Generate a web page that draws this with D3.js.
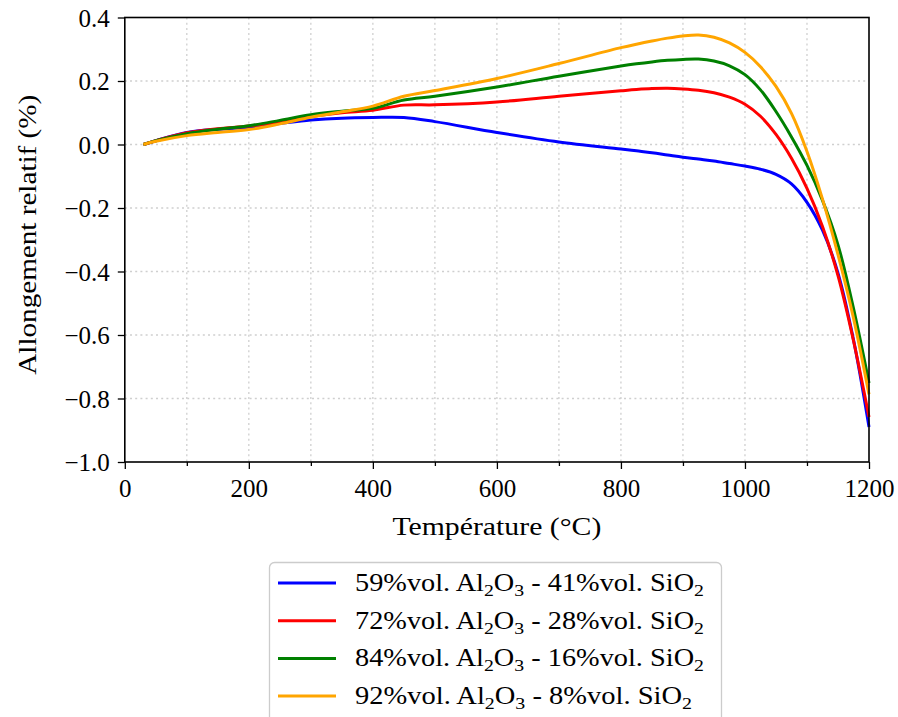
<!DOCTYPE html>
<html><head><meta charset="utf-8">
<script src="https://cdn.jsdelivr.net/npm/d3@7"></script>
<style>
body{margin:0;background:#fff;}
text{font-family:"Liberation Serif","DejaVu Serif",serif;fill:#000;}
</style></head>
<body><svg id="c" width="898" height="717"></svg>
<script>
const temps = [30,50,100,150,200,250,300,350,400,450,500,600,700,800,825,850,875,900,925,950,975,1000,1025,1050,1075,1100,1125,1150,1175,1200];
const blue   = [0,0.012,0.038,0.048,0.054,0.066,0.077,0.083,0.085,0.085,0.072,0.038,0.008,-0.014,-0.02,-0.026,-0.033,-0.04,-0.046,-0.052,-0.06,-0.068,-0.078,-0.094,-0.124,-0.182,-0.27,-0.405,-0.615,-0.89];
const red    = [0,0.012,0.037,0.05,0.058,0.072,0.088,0.1,0.108,0.124,0.125,0.134,0.152,0.169,0.173,0.176,0.177,0.175,0.171,0.163,0.149,0.127,0.089,0.032,-0.043,-0.138,-0.258,-0.413,-0.618,-0.858];
const green  = [0,0.012,0.034,0.048,0.059,0.076,0.094,0.105,0.114,0.14,0.152,0.181,0.215,0.247,0.254,0.26,0.265,0.268,0.269,0.263,0.248,0.22,0.172,0.104,0.024,-0.066,-0.176,-0.316,-0.516,-0.751];
const orange = [0,0.01,0.028,0.038,0.047,0.065,0.086,0.103,0.121,0.152,0.17,0.208,0.255,0.305,0.316,0.326,0.335,0.342,0.345,0.338,0.32,0.29,0.245,0.183,0.098,-0.022,-0.172,-0.347,-0.547,-0.787];
const seriesNames = [
  ["59%vol. Al","2","O","3"," - 41%vol. SiO","2"],
  ["72%vol. Al","2","O","3"," - 28%vol. SiO","2"],
  ["84%vol. Al","2","O","3"," - 16%vol. SiO","2"],
  ["92%vol. Al","2","O","3"," - 8%vol. SiO","2"]
];
const seriesColors = ["#0000ff","#ff0000","#008000","#ffa500"];
const seriesValues = [blue, red, green, orange];
const xTicks = [0,200,400,600,800,1000,1200];
const xMinor = [100,300,500,700,900,1100];
const yTicks = [0.4,0.2,0.0,-0.2,-0.4,-0.6,-0.8,-1.0];
const xLabel = "Température (°C)";
const yLabel = "Allongement relatif (%)";

const svg = d3.select("#c");
const L=124.8, R=869, T=17.5, B=462;
const x = d3.scaleLinear().domain([0,1200]).range([L,R]);
const y = d3.scaleLinear().domain([-1.0,0.4]).range([B,T]);

// grid
const grid = svg.append("g").attr("stroke","#cfcfcf").attr("stroke-width",1.3).attr("stroke-dasharray","2,3.2");
xTicks.concat(xMinor).forEach(t=>{
  if(t<=0||t>=1200) return;
  grid.append("line").attr("x1",x(t)).attr("x2",x(t)).attr("y1",T).attr("y2",B);
});
yTicks.forEach(t=>{
  if(t>=0.4||t<=-1.0) return;
  grid.append("line").attr("x1",L).attr("x2",R).attr("y1",y(t)).attr("y2",y(t));
});

// lines
const line = d3.line().x((d,i)=>x(temps[i])).y(d=>y(d)).curve(d3.curveCatmullRom.alpha(0.5));
seriesValues.forEach((vals,k)=>{
  svg.append("path").attr("d",line(vals)).attr("fill","none")
    .attr("stroke",seriesColors[k]).attr("stroke-width",3).attr("stroke-linejoin","round");
});

// axes
const fmtY = d=> (d<0?"\u2212":"")+Math.abs(d).toFixed(1);
const xAxis = svg.append("g").attr("transform",`translate(0,${B})`)
  .call(d3.axisBottom(x).tickValues(xTicks).tickFormat(d3.format("d")).tickSize(7).tickPadding(8));
const xAxisMinor = svg.append("g").attr("transform",`translate(0,${B})`)
  .call(d3.axisBottom(x).tickValues(xMinor).tickFormat("").tickSize(4));
const yAxis = svg.append("g").attr("transform",`translate(${L},0)`)
  .call(d3.axisLeft(y).tickValues(yTicks).tickFormat(fmtY).tickSize(7).tickPadding(8));
[xAxis,xAxisMinor,yAxis].forEach(g=>{
  g.select(".domain").remove();
  g.selectAll("line").attr("stroke","#000").attr("stroke-width",1.3);
  g.selectAll("text").style("font-family",'"Liberation Serif","DejaVu Serif",serif').attr("font-size",25).attr("fill","#000");
});
xAxis.selectAll("text").attr("dy","0.78em");
yAxis.selectAll("text").attr("dy","0.34em");

// frame
svg.append("rect").attr("x",L).attr("y",T).attr("width",R-L).attr("height",B-T)
  .attr("fill","none").attr("stroke","#000").attr("stroke-width",1.6);

// axis labels
svg.append("text").attr("x",(L+R)/2).attr("y",535).attr("text-anchor","middle").attr("font-size",25)
  .attr("textLength",209).attr("lengthAdjust","spacingAndGlyphs").text(xLabel);
svg.append("text").attr("transform",`translate(36,${(T+B)/2-5}) rotate(-90)`).attr("text-anchor","middle").attr("font-size",25)
  .attr("textLength",280).attr("lengthAdjust","spacingAndGlyphs").text(yLabel);

// legend
const legendWidths = [349,349,349,337];
const lg = svg.append("g");
lg.append("rect").attr("x",269.5).attr("y",562.5).attr("width",452).attr("height",170).attr("rx",5)
  .attr("fill","#fff").attr("stroke","#cccccc").attr("stroke-width",1.3);
seriesNames.forEach((parts,k)=>{
  const yy = 583 + k*37.7;
  lg.append("line").attr("x1",278).attr("x2",336).attr("y1",yy).attr("y2",yy)
    .attr("stroke",seriesColors[k]).attr("stroke-width",3);
  const t = lg.append("text").attr("x",355).attr("y",yy+8).attr("font-size",25)
    .attr("textLength",legendWidths[k]).attr("lengthAdjust","spacingAndGlyphs");
  parts.forEach((p,i)=>{
    const sub = (i===1||i===3||i===5);
    const ts = t.append("tspan").text(p);
    if(sub){ ts.attr("font-size",17.5).attr("dy",5); }
    else if(i>0){ ts.attr("dy",-5); }
  });
});
</script></body></html>
